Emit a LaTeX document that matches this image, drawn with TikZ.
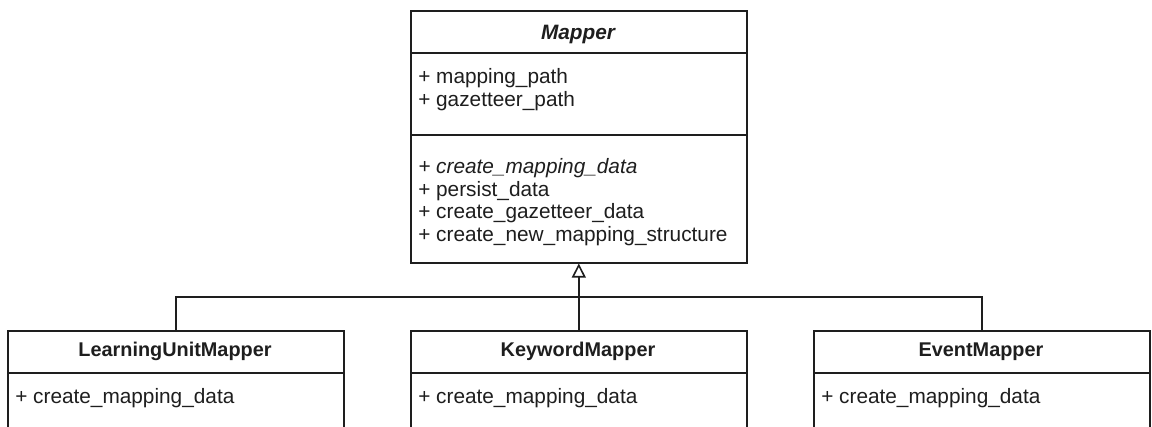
\documentclass[tikz,border=0pt]{standalone}
\usepackage{fontspec}
\setmainfont{Liberation Sans}
\usetikzlibrary{arrows.meta}
\definecolor{ink}{RGB}{30,30,30}
\begin{document}
\begin{tikzpicture}[x=0.75pt,y=-0.75pt,
  font=\fontsize{15.6pt}{17pt}\selectfont,
  classbox/.style={draw=ink,line width=1.2pt,anchor=north west,inner sep=0pt,
    minimum width=252pt},
  divider/.style={draw=ink,line width=1.2pt},
  member/.style={anchor=base west,inner sep=0pt,text=ink},
  title/.style={anchor=base,inner sep=0pt,text=ink,font=\fontsize{14.9pt}{17pt}\selectfont\bfseries},
  link/.style={draw=ink,line width=1.2pt},
  inherits/.style={link,-{Triangle[open,length=10.5pt,width=10.5pt,fill=white]}}]
\clip (0,0) rectangle (1152,427);
\fill[white] (0,0) rectangle (1152,427);

% abstract base class
\node[classbox,minimum height=189pt] (mapper) at (410,10) {};
\draw[divider] (410,53) -- (746,53);
\draw[divider] (410,135) -- (746,135);
\node[title,font=\fontsize{15.6pt}{17pt}\selectfont\bfseries\itshape] (mtitle) at (578,40) {Mapper};
\node[member] (a1) at (418,84) {+ mapping\_path};
\node[member] (a2) at (418,106.5) {+ gazetteer\_path};
\node[member,font=\fontsize{15.6pt}{17pt}\selectfont\itshape] (m1) at (418,174) {+ create\_mapping\_data};
\node[member] (m2) at (418,196.5) {+ persist\_data};
\node[member] (m3) at (418,219) {+ create\_gazetteer\_data};
\node[member] (m4) at (418,241.5) {+ create\_new\_mapping\_structure};

% concrete subclasses
\node[classbox,minimum height=112pt] (lum) at (7,330) {};
\draw[divider] (7,373) -- (343,373);
\node[title] (lumtitle) at (175,357) {LearningUnitMapper};
\node[member] (lumop) at (15,403) {+ create\_mapping\_data};

\node[classbox,minimum height=112pt] (km) at (410,330) {};
\draw[divider] (410,373) -- (746,373);
\node[title] (kmtitle) at (578,357) {KeywordMapper};
\node[member] (kmop) at (418,403) {+ create\_mapping\_data};

\node[classbox,minimum height=112pt] (em) at (813,330) {};
\draw[divider] (813,373) -- (1149,373);
\node[title] (emtitle) at (981,357) {EventMapper};
\node[member] (emop) at (821,403) {+ create\_mapping\_data};

% generalisation links
\coordinate (bus) at (578,297);
\draw[link] (lum.north) |- (bus);
\draw[link] (em.north) |- (bus);
\draw[inherits] (km.north) -- (mapper.south);
\end{tikzpicture}
\end{document}
